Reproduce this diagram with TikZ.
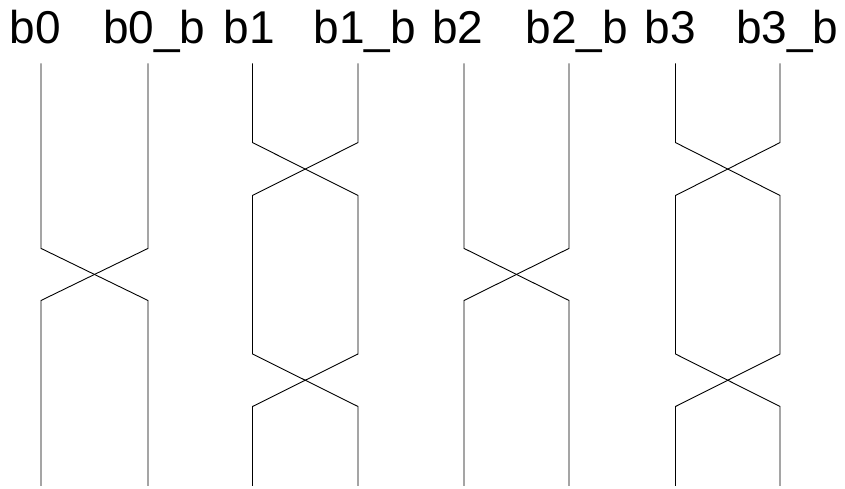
\documentclass[tikz,border=0pt]{standalone}
\usepackage{fontspec}
\setmainfont{Liberation Sans}
\begin{document}
\begin{tikzpicture}[x=1pt,y=1pt,
  wire/.style={draw=black,line width=0.9pt,line join=miter},
  lbl/.style={anchor=base west,inner sep=0pt,font=\fontsize{46}{46}\selectfont}]
\useasboundingbox (0,0) rectangle (845,489);
% column x positions
\def\xa{41}\def\xb{148}\def\xc{252.5}\def\xd{358}
\def\xe{464}\def\xf{569}\def\xg{675.5}\def\xh{780}
% row y positions
\def\ytop{425.7}\def\ybot{3}
\def\ra{346.4}\def\rb{293.5}\def\rc{240.6}\def\rd{188.5}
\def\re{135}\def\rf{82.5}
% labels
\node[lbl] (l0)  at (9.7,445.7) {b0};
\node[lbl] (l0b) at (103,445.7) {b0\_b};
\node[lbl] (l1)  at (223.7,445.7) {b1};
\node[lbl] (l1b) at (313.5,445.7) {b1\_b};
\node[lbl] (l2)  at (432,445.7) {b2};
\node[lbl] (l2b) at (525.3,445.7) {b2\_b};
\node[lbl] (l3)  at (644.7,445.7) {b3};
\node[lbl] (l3b) at (736,445.7) {b3\_b};
% named points
\foreach \n/\x in {a/\xa,b/\xb,c/\xc,d/\xd,e/\xe,f/\xf,g/\xg,h/\xh}{
  \coordinate (\n T) at (\x,\ytop);
  \coordinate (\n B) at (\x,\ybot);
  \coordinate (\n 1) at (\x,\ra);
  \coordinate (\n 2) at (\x,\rb);
  \coordinate (\n 3) at (\x,\rc);
  \coordinate (\n 4) at (\x,\rd);
  \coordinate (\n 5) at (\x,\re);
  \coordinate (\n 6) at (\x,\rf);
}
% pair 0: one crossing in the middle
\draw[wire] (aT) -- (a3) -- (b4) -- (bB);
\draw[wire] (bT) -- (b3) -- (a4) -- (aB);
% pair 1: two crossings
\draw[wire] (cT) -- (c1) -- (d2) -- (d5) -- (c6) -- (cB);
\draw[wire] (dT) -- (d1) -- (c2) -- (c5) -- (d6) -- (dB);
% pair 2
\draw[wire] (eT) -- (e3) -- (f4) -- (fB);
\draw[wire] (fT) -- (f3) -- (e4) -- (eB);
% pair 3
\draw[wire] (gT) -- (g1) -- (h2) -- (h5) -- (g6) -- (gB);
\draw[wire] (hT) -- (h1) -- (g2) -- (g5) -- (h6) -- (hB);
\end{tikzpicture}
\end{document}
